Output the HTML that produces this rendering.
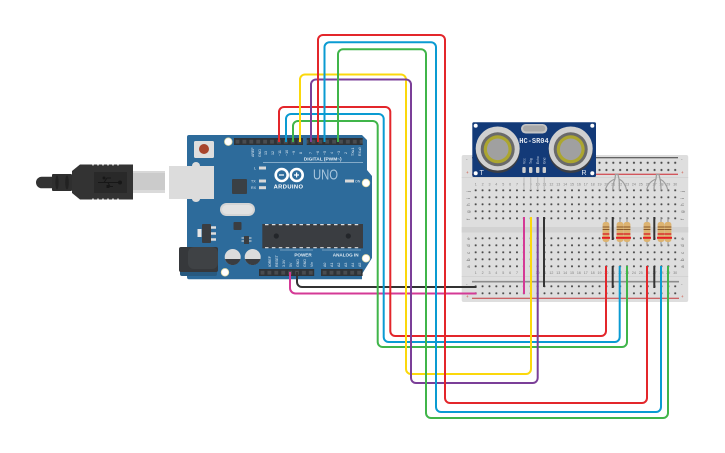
<!DOCTYPE html>
<html><head><meta charset="utf-8"><style>
html,body{margin:0;padding:0;background:#fff;width:725px;height:453px;overflow:hidden}
svg{display:block}
text{font-family:"Liberation Sans",sans-serif}
.w{fill:none;stroke-width:2;stroke-linejoin:round}
.lbl{fill:#dfe9f2;font-size:3.6px}
.bb{fill:#707070;font-size:4.6px}
.lead{stroke:#9c9c9c;stroke-width:1.2;fill:none}
</style></head><body>
<svg width="725" height="453" viewBox="0 0 725 453" xmlns="http://www.w3.org/2000/svg">
<defs>
<pattern id="h" x="472.26" y="186.8" width="6.88" height="7" patternUnits="userSpaceOnUse"><circle cx="3.44" cy="3.5" r="1.05" fill="#444"/></pattern>
<pattern id="h2" x="472.26" y="234.8" width="6.88" height="7" patternUnits="userSpaceOnUse"><circle cx="3.44" cy="3.5" r="1.05" fill="#444"/></pattern>
<pattern id="h3" x="472.26" y="159.3" width="6.88" height="7.2" patternUnits="userSpaceOnUse"><circle cx="3.44" cy="3.5" r="1.05" fill="#444"/></pattern>
<pattern id="h4" x="472.26" y="282.8" width="6.88" height="7" patternUnits="userSpaceOnUse"><circle cx="3.44" cy="3.5" r="1.05" fill="#444"/></pattern>
<pattern id="hdr" x="234" y="138" width="6.9" height="7" patternUnits="userSpaceOnUse"><rect width="6.9" height="7" fill="#2f3337"/><rect x="1.6" y="1.8" width="3.8" height="3.8" fill="#494c50"/></pattern>
<pattern id="hdr2" x="259" y="269" width="6.9" height="7" patternUnits="userSpaceOnUse"><rect width="6.9" height="7" fill="#2f3337"/><rect x="1.6" y="1.8" width="3.8" height="3.8" fill="#494c50"/></pattern>
</defs>

<!-- USB plug -->
<rect x="133" y="171" width="32" height="22" fill="#cbcbcb"/>
<rect x="133" y="171" width="32" height="2" fill="#d8d8d8"/>
<rect x="133" y="190" width="32" height="3" fill="#dadada"/>
<path d="M36 182.5a5.8 5.8 0 0 1 5.8-5.8H52V188.3H41.8A5.8 5.8 0 0 1 36 182.5Z" fill="#333"/>
<rect x="52" y="174" width="20" height="17" rx="1" fill="#2f2f2f"/>
<ellipse cx="57" cy="182.5" rx="1.6" ry="7" fill="#222"/><ellipse cx="67" cy="182.5" rx="1.8" ry="7" fill="#222"/>
<path d="M72 171L80 164.5H133V199.5H80L72 193Z" fill="#333"/>
<path d="M92 165h2M97 165h2M102 165h2M107 165h2M112 165h2M117 165h2M92 199h2M97 199h2M102 199h2M107 199h2M112 199h2M117 199h2" stroke="#bbb" stroke-width="1"/>
<rect x="94" y="172" width="33" height="21" fill="#292929"/>
<path d="M98 182.5H120M104 182.5L107 178H111M108 182.5L110 186.5H113" stroke="#171717" fill="none"/>
<circle cx="120" cy="182.5" r="2" fill="#171717"/><circle cx="104" cy="178" r="1.5" fill="#171717"/><rect x="106.5" y="185" width="3" height="3" fill="#171717"/>

<!-- Arduino -->
<path d="M189 135H362L367 140V170L372 176V258L362 274V279.3H189Q187 279.3 187 277V137Q187 135 189 135Z" fill="#2d6b9b"/>
<rect x="169" y="166" width="45" height="33" fill="#dcdcdc"/>
<ellipse cx="196" cy="166" rx="4" ry="4" fill="#dcdcdc"/><ellipse cx="196" cy="199" rx="4" ry="3" fill="#dcdcdc"/>
<rect x="194" y="141" width="20" height="17" rx="1.5" fill="#dedede"/>
<circle cx="204" cy="149" r="5" fill="#a8442c"/>
<circle cx="228.3" cy="141.7" r="3.8" fill="#fff" stroke="#e4dca6" stroke-width=".8"/>
<circle cx="366" cy="183" r="3.8" fill="#fff" stroke="#e4dca6" stroke-width=".8"/>
<circle cx="366" cy="258.3" r="3.8" fill="#fff" stroke="#e4dca6" stroke-width=".8"/>
<circle cx="225" cy="272.3" r="3.8" fill="#fff" stroke="#e4dca6" stroke-width=".8"/>
<rect x="234" y="138" width="69" height="7" fill="url(#hdr)"/>
<rect x="306.7" y="138" width="56" height="7" fill="url(#hdr)"/>
<rect x="259" y="269" width="55.2" height="7" fill="url(#hdr2)"/>
<rect x="321" y="269" width="41.6" height="7" fill="url(#hdr2)"/>
<rect x="232" y="179" width="15" height="15" rx="1" fill="#3a4045"/>
<rect x="220" y="203" width="35" height="13" rx="6.5" fill="#d5d5d5"/>
<rect x="222" y="205" width="31" height="9" rx="4.5" fill="#e2e2e2"/>
<rect x="262.3" y="224" width="100.7" height="24.3" fill="#3a3d41"/>
<path d="M265 224.6H361M265 247.7H361" stroke="#ddd" stroke-width="1.2" stroke-dasharray="3.5 3.4"/>
<circle cx="276.3" cy="236" r="2.6" fill="#23262a"/><circle cx="348.3" cy="236" r="2.6" fill="#23262a"/>
<rect x="233.5" y="222" width="8" height="8" rx="1" fill="#3a3d41"/>
<rect x="244" y="236" width="5" height="8" fill="#3a3d41"/><path d="M241.5 238h2.5M241.5 241h2.5M249 238h2.5M249 241h2.5" stroke="#ddd"/>
<rect x="202" y="224" width="9" height="19" rx="1" fill="#3a3d41"/>
<rect x="197.5" y="229" width="4" height="8" fill="#e6e6e6"/>
<path d="M211 227.5h5M211 233.5h5M211 239.5h5" stroke="#ddd" stroke-width="2.5"/>
<rect x="180" y="268" width="37" height="8" rx="2" fill="#285a80"/>
<rect x="179" y="247" width="39" height="25" rx="2" fill="#36383b"/>
<rect x="188" y="247" width="30" height="22" rx="6" fill="#3f4245"/>
<circle cx="232.7" cy="257" r="8" fill="#dcdcdc"/><path d="M225 259a8 8 0 0 0 15.5 0Z" fill="#3a3d41"/>
<circle cx="252.7" cy="257" r="8" fill="#dcdcdc"/><path d="M245 259a8 8 0 0 0 15.500 0Z" fill="#3a3d41"/>
<g fill="#fff" stroke="none">
<circle cx="281.7" cy="175" r="6" fill="none" stroke="#fff" stroke-width="2.6"/>
<circle cx="296.7" cy="175" r="6" fill="none" stroke="#fff" stroke-width="2.6"/>
<path d="M279 174.4h5v1.2h-5zM294 174.4h5v1.2h-5zM296 172.5h1.2v5h-1.2z"/>
</g>
<text x="288.5" y="188.5" text-anchor="middle" font-size="5.8" font-weight="700" fill="#fff" letter-spacing=".4">ARDUINO</text>
<text x="313" y="179.5" font-size="15" fill="#a9c6dd" textLength="25" lengthAdjust="spacingAndGlyphs">UNO</text>
<text x="322.7" y="160.4" text-anchor="middle" font-size="4.8" font-weight="700" fill="#e4edf4">DIGITAL (PWM~)</text>
<path d="M263 162.3H363M280 250H313M322 250H361" stroke="#b9d0e2" stroke-width=".6"/>
<text x="303" y="256.5" text-anchor="middle" font-size="4.6" font-weight="700" fill="#e4edf4">POWER</text>
<text x="345.7" y="256.5" text-anchor="middle" font-size="4.6" font-weight="700" fill="#e4edf4">ANALOG IN</text>
<g class="lbl">
<text transform="translate(254,157) rotate(-90)">AREF</text>
<text transform="translate(261,157) rotate(-90)">GND</text>
<text transform="translate(267,155) rotate(-90)">13</text>
<text transform="translate(274,155) rotate(-90)">12</text>
<text transform="translate(281,156) rotate(-90)">~11</text>
<text transform="translate(288,156) rotate(-90)">~10</text>
<text transform="translate(295,155) rotate(-90)">~9</text>
<text transform="translate(302,154) rotate(-90)">8</text>
<text transform="translate(312,154) rotate(-90)">7</text>
<text transform="translate(319,155) rotate(-90)">~6</text>
<text transform="translate(326,155) rotate(-90)">~5</text>
<text transform="translate(333,154) rotate(-90)">4</text>
<text transform="translate(340,155) rotate(-90)">~3</text>
<text transform="translate(347,154) rotate(-90)">2</text>
<text transform="translate(354,156) rotate(-90)">TX▸1</text>
<text transform="translate(361,156) rotate(-90)">RX◂0</text>
<text transform="translate(271,267) rotate(-90)">IOREF</text>
<text transform="translate(278,267) rotate(-90)">RESET</text>
<text transform="translate(285,267) rotate(-90)">3.3V</text>
<text transform="translate(292,267) rotate(-90)">5V</text>
<text transform="translate(299,267) rotate(-90)">GND</text>
<text transform="translate(306,267) rotate(-90)">GND</text>
<text transform="translate(313,267) rotate(-90)">Vin</text>
<text transform="translate(326,267) rotate(-90)">A0</text>
<text transform="translate(333,267) rotate(-90)">A1</text>
<text transform="translate(340,267) rotate(-90)">A2</text>
<text transform="translate(347,267) rotate(-90)">A3</text>
<text transform="translate(354,267) rotate(-90)">A4</text>
<text transform="translate(361,267) rotate(-90)">A5</text>
<text x="254" y="169.5">L</text><text x="251" y="182.5">TX</text><text x="251" y="189">RX</text><text x="355" y="182.5">ON</text>
</g>
<g fill="#d8d8d8"><rect x="259" y="166.5" width="7" height="3"/><rect x="259" y="179.5" width="7" height="3"/><rect x="259" y="186.2" width="7" height="3"/><rect x="345" y="179.5" width="9" height="3"/></g>

<!-- Breadboard -->
<rect x="461.7" y="155" width="226.5" height="147" rx="2" fill="#dedede"/>
<rect x="461.7" y="227" width="226.5" height="5.5" fill="#d2d2d2"/>
<path d="M461.7 177.5H688.2M461.7 276.5H688.2" stroke="#d0d0d0" stroke-width=".8"/>
<path d="M472 157.7H678" stroke="#3c3c3c" stroke-width="1"/>
<path d="M472 174.3H678" stroke="#d2565c" stroke-width="1.3"/>
<path d="M472 281.7H679" stroke="#8d8d8d" stroke-width="1.6"/>
<path d="M472 298.3H679" stroke="#c4383c" stroke-width="1"/>
<rect x="472.26" y="159.3" width="206.4" height="14.4" fill="url(#h3)"/>
<rect x="472.26" y="186.8" width="206.4" height="35" fill="url(#h)"/>
<rect x="472.26" y="234.8" width="206.4" height="35" fill="url(#h2)"/>
<rect x="472.26" y="282.8" width="206.4" height="14" fill="url(#h4)"/>
<g class="bb">
<text x="466" y="161">-</text><text x="681" y="161">-</text><text x="466" y="174" fill="#c43">+</text><text x="681" y="174" fill="#c43">+</text>
<text x="466" y="286">-</text><text x="681" y="286">-</text><text x="466" y="298" fill="#c43">+</text><text x="681" y="298" fill="#c43">+</text>
<text x="470" y="192" rotate="-90">j</text><text x="470" y="199" rotate="-90">i</text><text x="470" y="206" rotate="-90">h</text><text x="470" y="213" rotate="-90">g</text><text x="470" y="220" rotate="-90">f</text>
<text x="470" y="240" rotate="-90">e</text><text x="470" y="247" rotate="-90">d</text><text x="470" y="254" rotate="-90">c</text><text x="470" y="261" rotate="-90">b</text><text x="470" y="268" rotate="-90">a</text>
<text x="684" y="192" rotate="-90">j</text><text x="684" y="199" rotate="-90">i</text><text x="684" y="206" rotate="-90">h</text><text x="684" y="213" rotate="-90">g</text><text x="684" y="220" rotate="-90">f</text>
<text x="684" y="240" rotate="-90">e</text><text x="684" y="247" rotate="-90">d</text><text x="684" y="254" rotate="-90">c</text><text x="684" y="261" rotate="-90">b</text><text x="684" y="268" rotate="-90">a</text>
</g>
<g font-size="3.6" fill="#808080" text-anchor="middle">
<text y="185.5"><tspan x="475.7">1</tspan><tspan x="482.6">2</tspan><tspan x="489.5">3</tspan><tspan x="496.3">4</tspan><tspan x="503.2">5</tspan><tspan x="510.1">6</tspan><tspan x="517">7</tspan><tspan x="523.9">8</tspan><tspan x="530.7">9</tspan><tspan x="537.6">10</tspan><tspan x="544.5">11</tspan><tspan x="551.4">12</tspan><tspan x="558.3">13</tspan><tspan x="565.1">14</tspan><tspan x="572">15</tspan><tspan x="578.9">16</tspan><tspan x="585.8">17</tspan><tspan x="592.7">18</tspan><tspan x="599.5">19</tspan><tspan x="606.4">20</tspan><tspan x="613.3">21</tspan><tspan x="620.2">22</tspan><tspan x="627.1">23</tspan><tspan x="633.9">24</tspan><tspan x="640.8">25</tspan><tspan x="647.7">26</tspan><tspan x="654.6">27</tspan><tspan x="661.5">28</tspan><tspan x="668.3">29</tspan><tspan x="675.2">30</tspan></text>
<text y="274"><tspan x="475.7">1</tspan><tspan x="482.6">2</tspan><tspan x="489.5">3</tspan><tspan x="496.3">4</tspan><tspan x="503.2">5</tspan><tspan x="510.1">6</tspan><tspan x="517">7</tspan><tspan x="523.9">8</tspan><tspan x="530.7">9</tspan><tspan x="537.6">10</tspan><tspan x="544.5">11</tspan><tspan x="551.4">12</tspan><tspan x="558.3">13</tspan><tspan x="565.1">14</tspan><tspan x="572">15</tspan><tspan x="578.9">16</tspan><tspan x="585.8">17</tspan><tspan x="592.7">18</tspan><tspan x="599.5">19</tspan><tspan x="606.4">20</tspan><tspan x="613.3">21</tspan><tspan x="620.2">22</tspan><tspan x="627.1">23</tspan><tspan x="633.9">24</tspan><tspan x="640.8">25</tspan><tspan x="647.7">26</tspan><tspan x="654.6">27</tspan><tspan x="661.5">28</tspan><tspan x="668.3">29</tspan><tspan x="675.2">30</tspan></text>
</g>

<!-- Sensor -->
<path d="M524 176V190M530.7 176V190M537.7 176V190M544.3 176V190" stroke="#bdbdbd" stroke-width="1.2"/>
<rect x="472.3" y="122.3" width="123.7" height="54.7" rx="1.5" fill="#133a78"/>
<circle cx="475.7" cy="125.7" r="2" fill="#fff"/><circle cx="592.3" cy="125.7" r="2" fill="#fff"/><circle cx="475.7" cy="173.3" r="2" fill="#fff"/><circle cx="592.3" cy="173.3" r="2" fill="#fff"/>
<rect x="521" y="124" width="26.3" height="9.5" rx="4.7" fill="#c4c4c4"/>
<rect x="523" y="125.5" width="22.3" height="6" rx="3" fill="#a8a8a8"/>
<circle cx="497.7" cy="151" r="22" fill="#3c3f46"/><circle cx="570.7" cy="151" r="22" fill="#3c3f46"/>
<circle cx="497.7" cy="148.5" r="22" fill="#d0d0d0"/><circle cx="570.7" cy="148.5" r="22" fill="#d0d0d0"/>
<circle cx="497.7" cy="149.3" r="17" fill="#6a6a6a"/><circle cx="570.7" cy="149.3" r="17" fill="#6a6a6a"/>
<circle cx="497.7" cy="149.3" r="14" fill="#aca62f"/><circle cx="570.7" cy="149.3" r="14" fill="#aca62f"/>
<circle cx="497.7" cy="149.3" r="10.8" fill="#a0a0a0"/><circle cx="570.7" cy="149.3" r="10.8" fill="#a0a0a0"/>
<text x="534" y="143" text-anchor="middle" font-size="7" fill="#e0e6ef" style="font-family:'Liberation Mono',monospace" font-weight="700">HC-SR04</text>
<text x="481.7" y="175" text-anchor="middle" font-size="7" fill="#e6ebf3">T</text>
<text x="584" y="175" text-anchor="middle" font-size="7" fill="#e6ebf3">R</text>
<g font-size="3.4" fill="#d5ddea">
<text transform="translate(525.3,164) rotate(-90)">Vcc</text>
<text transform="translate(532,164) rotate(-90)">Trig</text>
<text transform="translate(539,164) rotate(-90)">Echo</text>
<text transform="translate(545.6,164) rotate(-90)">Gnd</text>
</g>
<g fill="#cdcdcd"><rect x="522.3" y="167" width="3.4" height="6" rx="1"/><rect x="529" y="167" width="3.4" height="6" rx="1"/><rect x="536" y="167" width="3.4" height="6" rx="1"/><rect x="542.6" y="167" width="3.4" height="6" rx="1"/></g>

<!-- Resistor leads -->
<path class="lead" d="M605.3 190.500Q607 182 615 179L615.500 174.500H618L619 179Q625 182 626.700 190.500M612.700 190.500Q613 183 615 179M619.300 190.500Q619.500 183 619 179"/>
<path class="lead" d="M646.700 190.500Q648 182 656 179L656.500 174.500H659L660 179Q666 182 668 190.500M654 190.500Q654 183 656 179M661 190.500Q661 183 660 179"/>
<path class="lead" d="M606 217V223M620 217V223M627 217V223M647 217V223M661 217V223M668 217V223M606 241V246M620 241V246M627 241V246M647 241V246M661 241V246M668 241V246"/>
<g>
<g>
<rect x="602.6" y="222" width="6.8" height="20" rx="2.5" fill="#dcb371"/><path d="M602.600 227h6.800M602.600 229.500h6.800" stroke="#8a5a2c" stroke-width="1"/><path d="M602.600 234h6.800" stroke="#d8262a" stroke-width="1.400"/><path d="M602 237.800h8" stroke="#e51f25" stroke-width="2"/>
</g>
<g>
<rect x="616.6" y="222" width="6.8" height="20" rx="2.5" fill="#dcb371"/><path d="M616.600 227h6.800M616.600 229.500h6.800" stroke="#8a5a2c" stroke-width="1"/><path d="M616.600 234h6.800" stroke="#d8262a" stroke-width="1.400"/><path d="M616 237.800h8" stroke="#e51f25" stroke-width="2"/>
</g>
<g>
<rect x="623.6" y="222" width="6.8" height="20" rx="2.5" fill="#dcb371"/><path d="M623.600 227h6.800M623.600 229.500h6.800" stroke="#8a5a2c" stroke-width="1"/><path d="M623.600 234h6.800" stroke="#d8262a" stroke-width="1.400"/><path d="M623 237.800h8" stroke="#e51f25" stroke-width="2"/>
</g>
<g>
<rect x="643.6" y="222" width="6.8" height="20" rx="2.5" fill="#dcb371"/><path d="M643.600 227h6.800M643.600 229.500h6.800" stroke="#8a5a2c" stroke-width="1"/><path d="M643.600 234h6.800" stroke="#d8262a" stroke-width="1.400"/><path d="M643 237.800h8" stroke="#e51f25" stroke-width="2"/>
</g>
<g>
<rect x="657.6" y="222" width="6.8" height="20" rx="2.5" fill="#dcb371"/><path d="M657.600 227h6.800M657.600 229.500h6.800" stroke="#8a5a2c" stroke-width="1"/><path d="M657.600 234h6.800" stroke="#d8262a" stroke-width="1.400"/><path d="M657 237.800h8" stroke="#e51f25" stroke-width="2"/>
</g>
<g>
<rect x="664.6" y="222" width="6.8" height="20" rx="2.5" fill="#dcb371"/><path d="M664.600 227h6.800M664.600 229.500h6.800" stroke="#8a5a2c" stroke-width="1"/><path d="M664.600 234h6.800" stroke="#d8262a" stroke-width="1.400"/><path d="M664 237.800h8" stroke="#e51f25" stroke-width="2"/>
</g>
</g>

<!-- Short wires -->
<g class="w">
<path d="M524 217V294" stroke="#d43a96"/>
<path d="M544 217V287" stroke="#333"/>
<path d="M612.700 217V240M612.700 266V288M654.300 217V240M654.300 266V288" stroke="#333"/>
</g>

<!-- Long wires -->
<g class="w">
<path d="M297 272V282a5 5 0 0 0 5 5H476.500" stroke="#333"/>
<path d="M290 272V288a5.500 5.500 0 0 0 5.500 5.500H476.500" stroke="#d43a96"/>
<path d="M279 142V112a5 5 0 0 1 5-5H385.300a5 5 0 0 1 5 5V331a5 5 0 0 0 5 5H601a5 5 0 0 0 5-5V266" stroke="#e3262b"/>
<path d="M286 142V119a5 5 0 0 1 5-5H378.700a5 5 0 0 1 5 5V337a5 5 0 0 0 5 5H614.700a5 5 0 0 0 5-5V266" stroke="#0a9bd2"/>
<path d="M293 142V126a5 5 0 0 1 5-5H372.700a5 5 0 0 1 5 5V342a5 5 0 0 0 5 5H622a5 5 0 0 0 5-5V266" stroke="#40b54a"/>
<path d="M300 142V79.500a5 5 0 0 1 5-5H401a5 5 0 0 1 5 5V369a5 5 0 0 0 5 5H526a5 5 0 0 0 5-5V217" stroke="#fbd80c"/>
<path d="M311 142V84.500a5 5 0 0 1 5-5H406a5 5 0 0 1 5 5V378a5 5 0 0 0 5 5H532.700a5 5 0 0 0 5-5V217" stroke="#7b3f98"/>
<path d="M318 142V40a5 5 0 0 1 5-5H440a5 5 0 0 1 5 5V398a5 5 0 0 0 5 5H642a5 5 0 0 0 5-5V266" stroke="#e3262b"/>
<path d="M324.500 142V47.300a5 5 0 0 1 5-5H431a5 5 0 0 1 5 5V407a5 5 0 0 0 5 5H656a5 5 0 0 0 5-5V266" stroke="#0a9bd2"/>
<path d="M338 142V54.300a5 5 0 0 1 5-5H421a5 5 0 0 1 5 5V413a5 5 0 0 0 5 5H663a5 5 0 0 0 5-5V266" stroke="#40b54a"/>
</g>
</svg>
</body></html>
